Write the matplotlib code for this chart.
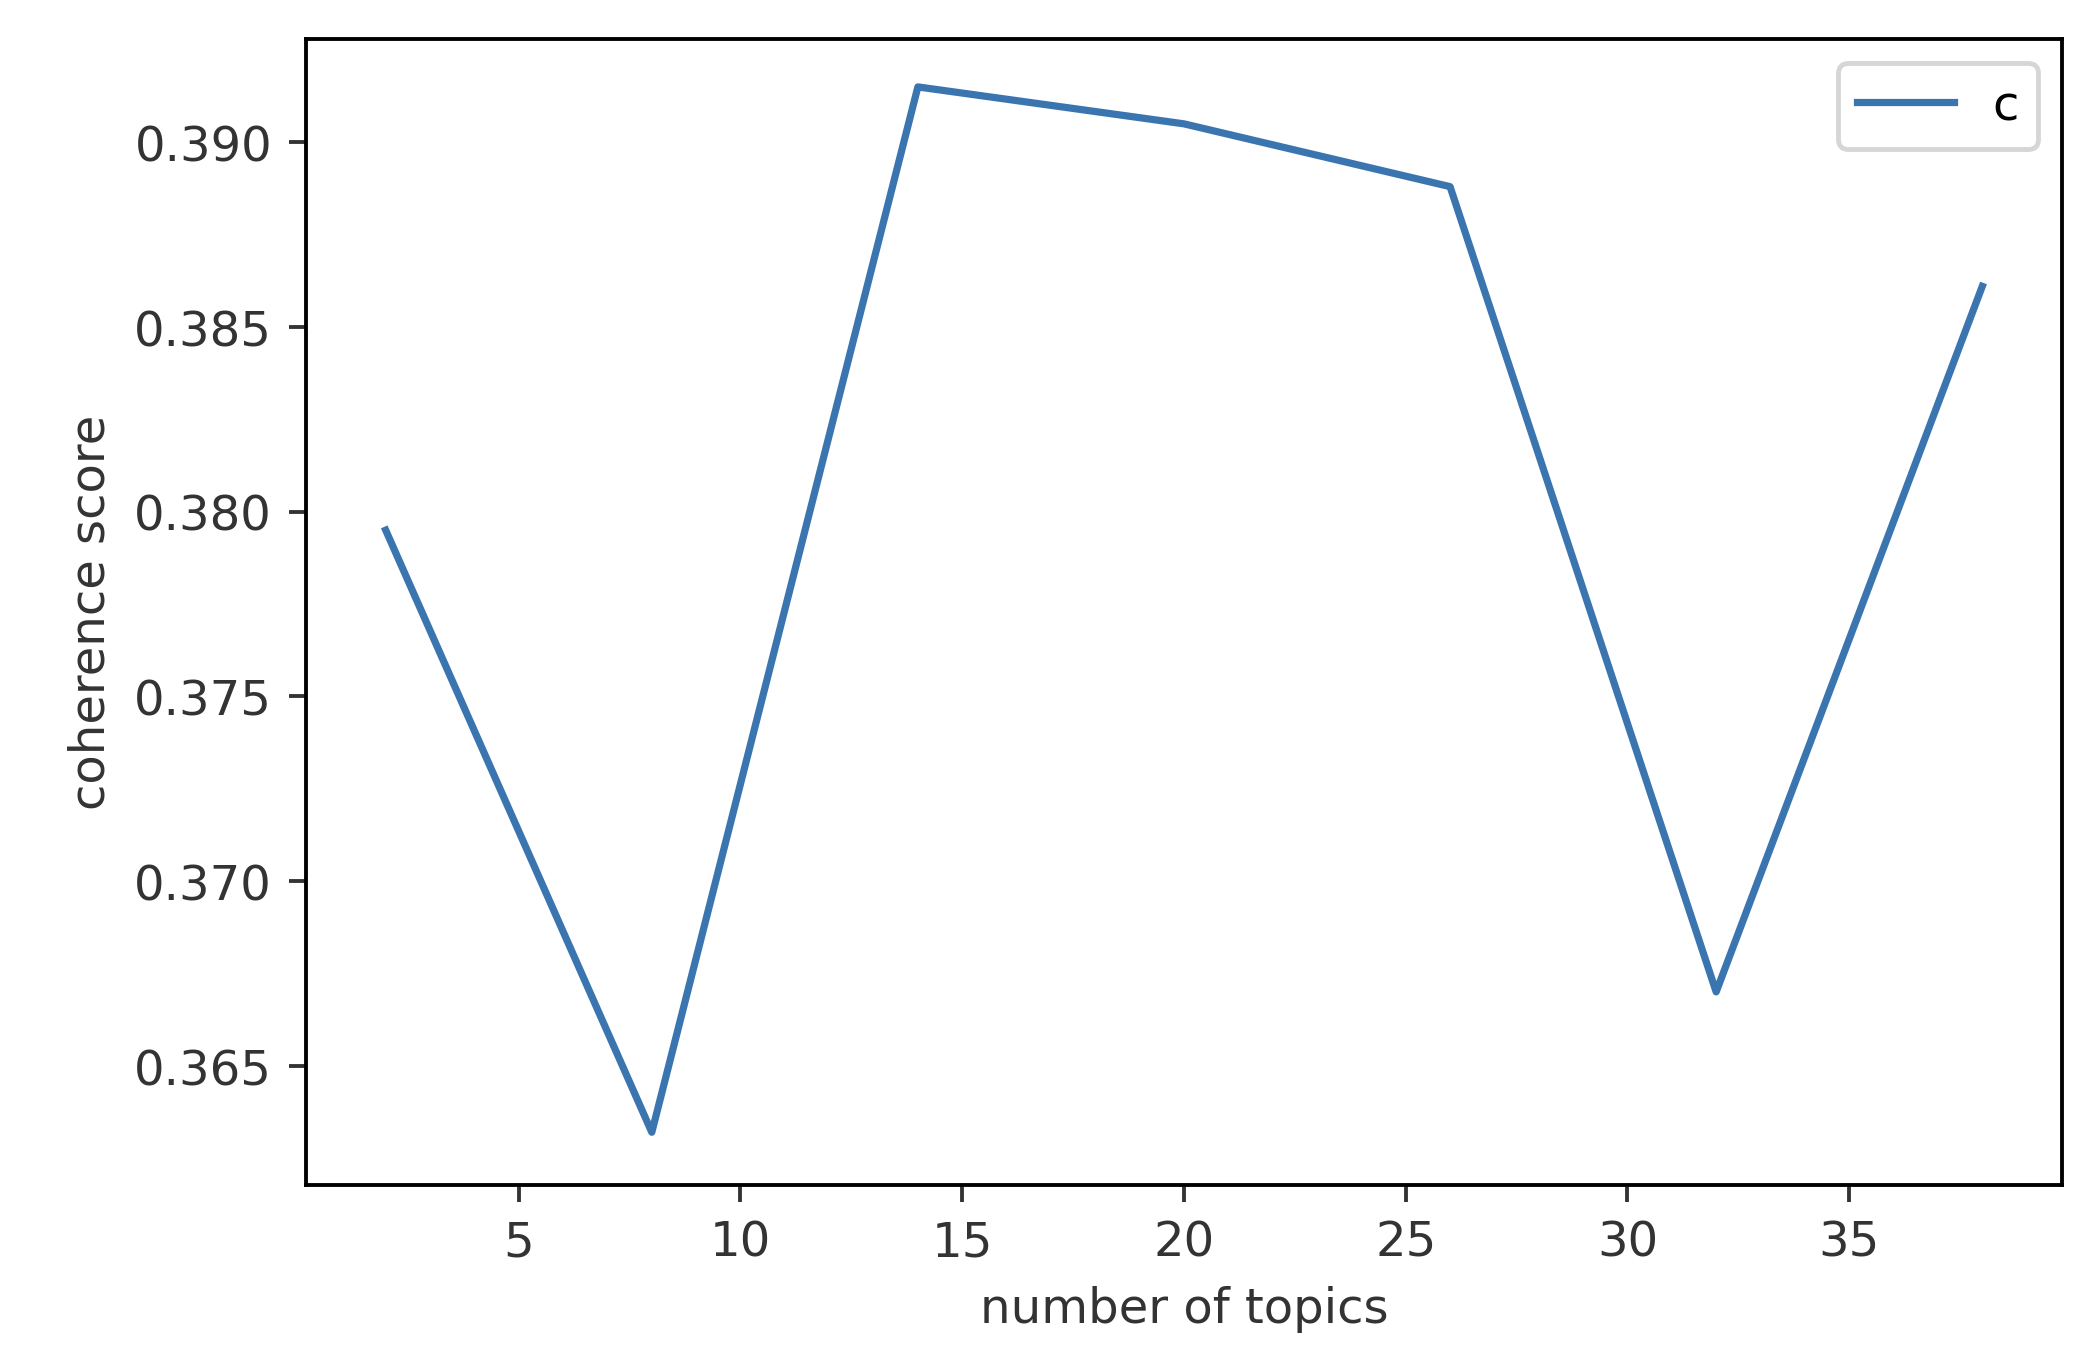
import matplotlib
matplotlib.use("Agg")
import matplotlib.pyplot as plt

topics = [2, 8, 14, 20, 26, 32, 38]
coherence = [0.3795, 0.3632, 0.3915, 0.3905, 0.3888, 0.3670, 0.3861]

fig = plt.figure(figsize=(6.0, 3.944), dpi=346.8)
ax = fig.add_axes([0.147, 0.133, 0.844, 0.838])
ax.plot(topics, coherence, color="#3a75b0", label="c")
ax.set_ylim(0.36177, 0.3928)
ax.set_xlabel("number of topics", color="#333333")
ax.set_ylabel("coherence score", color="#333333")
ax.tick_params(colors="#333333")
ax.legend(loc="upper right")
fig.savefig("out.png")
